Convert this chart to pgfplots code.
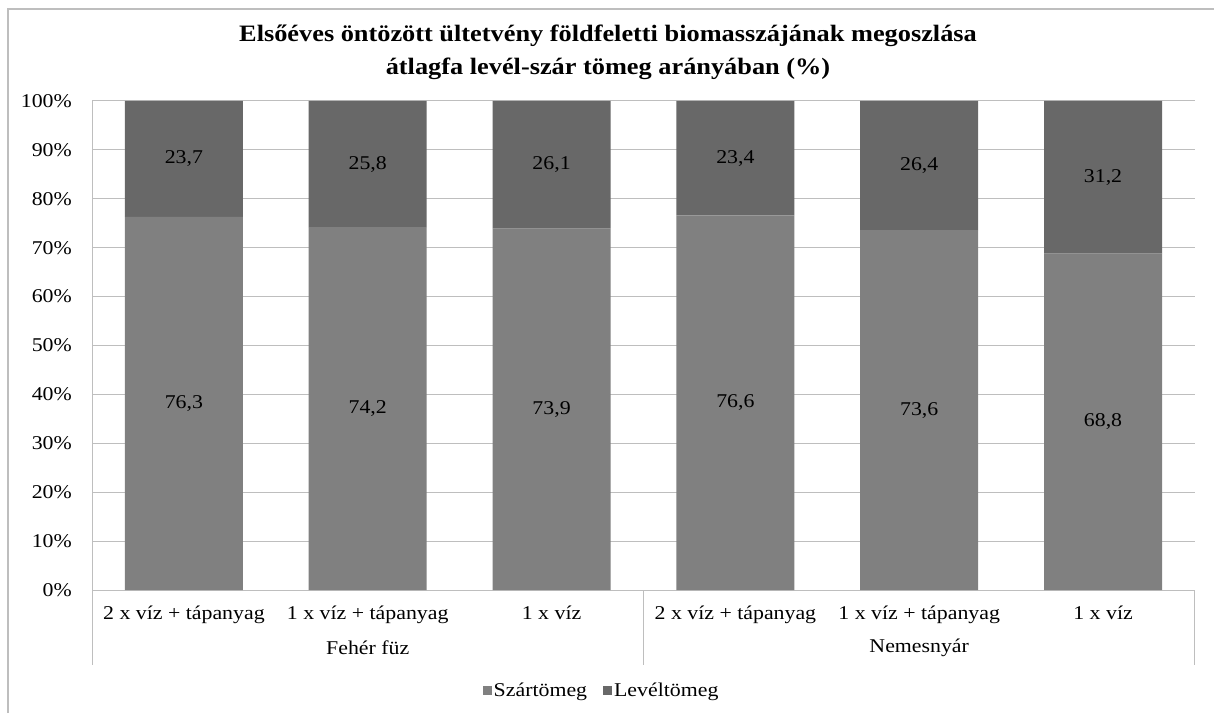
\documentclass[border=0pt]{standalone}
\usepackage{pgfplots}
\pgfplotsset{compat=1.18}
\usepackage{fontspec}
\setmainfont{Liberation Serif}[FakeStretch=1.12]
\definecolor{szar}{RGB}{128,128,128}
\definecolor{level}{RGB}{104,104,104}
\definecolor{gridc}{RGB}{190,190,190}
\begin{document}
\begin{tikzpicture}[x=1pt,y=1pt]
\useasboundingbox (0,0) rectangle (1214,713);
\fill[white] (0,0) rectangle (1214,713);
\draw[gridc, line width=1.2pt] (8,0) -- (8,704) -- (1214,704);
\node[font=\fontsize{23.5}{33}\selectfont\bfseries, align=center] at (608,661) {Elsőéves öntözött ültetvény földfeletti biomasszájának megoszlása\\átlagfa levél-szár tömeg arányában (\%)};
\begin{axis}[
  at={(92pt,123pt)}, anchor=south west,
  width=1103pt, height=489pt, scale only axis,
  ybar stacked, bar width=118pt,
  xmin=-0.5, xmax=5.5, ymin=0, ymax=100,
  xtick={0,...,5},
  xticklabels={2 x víz + tápanyag, 1 x víz + tápanyag, 1 x víz, 2 x víz + tápanyag, 1 x víz + tápanyag, 1 x víz},
  ytick={0,10,...,100},
  yticklabels={0\%,10\%,20\%,30\%,40\%,50\%,60\%,70\%,80\%,90\%,100\%},
  major tick length=0pt,
  tick label style={font=\fontsize{19.5}{22}\selectfont},
  xticklabel style={anchor=base, yshift=-29pt},
  yticklabel style={anchor=east, inner sep=0pt, xshift=-20pt},
  axis x line*=bottom, axis y line*=left,
  axis line style={gridc, line width=1pt},
  ymajorgrids, grid style={gridc, line width=1pt},
  legend style={at={(0.462,-0.2045)}, anchor=center, draw=none, legend columns=2,
    font=\fontsize{19.5}{22}\selectfont,
    /tikz/every even column/.append style={column sep=14pt}},
  clip=false,
]
\addplot[fill=szar, draw=none, legend image code/.code={\fill[szar] (0pt,-4.5pt) rectangle (9pt,4.5pt);}] coordinates {(0,76.3) (1,74.2) (2,73.9) (3,76.6) (4,73.6) (5,68.8)};
\addplot[fill=level, draw=none, legend image code/.code={\fill[level] (0pt,-4.5pt) rectangle (9pt,4.5pt);}] coordinates {(0,23.7) (1,25.8) (2,26.1) (3,23.4) (4,26.4) (5,31.2)};
\legend{Szártömeg, Levéltömeg}
\draw[gridc, line width=1pt] (axis cs:-0.5,0) -- ([yshift=-75pt]axis cs:-0.5,0);
\draw[gridc, line width=1pt] (axis cs:2.5,0) -- ([yshift=-75pt]axis cs:2.5,0);
\draw[gridc, line width=1pt] (axis cs:5.5,0) -- ([yshift=-75pt]axis cs:5.5,0);
\node[font=\fontsize{19.5}{22}\selectfont] at (axis cs:1,0) [yshift=-58pt] {Fehér füz};
\node[font=\fontsize{19.5}{22}\selectfont] at (axis cs:4,0) [yshift=-58pt] {Nemesnyár};
\end{axis}
\begin{axis}[
  at={(92pt,123pt)}, anchor=south west,
  width=1103pt, height=489pt, scale only axis,
  xmin=-0.5, xmax=5.5, ymin=0, ymax=100,
  hide axis,
]
\addplot[draw=none, mark=none, nodes near coords, point meta=explicit symbolic,
  every node near coord/.append style={anchor=center, font=\fontsize{19.5}{22}\selectfont}]
  coordinates {(0,38.15)[76,3] (1,37.1)[74,2] (2,36.95)[73,9] (3,38.3)[76,6] (4,36.8)[73,6] (5,34.4)[68,8]
  (0,88.15)[23,7] (1,87.1)[25,8] (2,86.95)[26,1] (3,88.3)[23,4] (4,86.8)[26,4] (5,84.4)[31,2]};
\end{axis}
\end{tikzpicture}
\end{document}
